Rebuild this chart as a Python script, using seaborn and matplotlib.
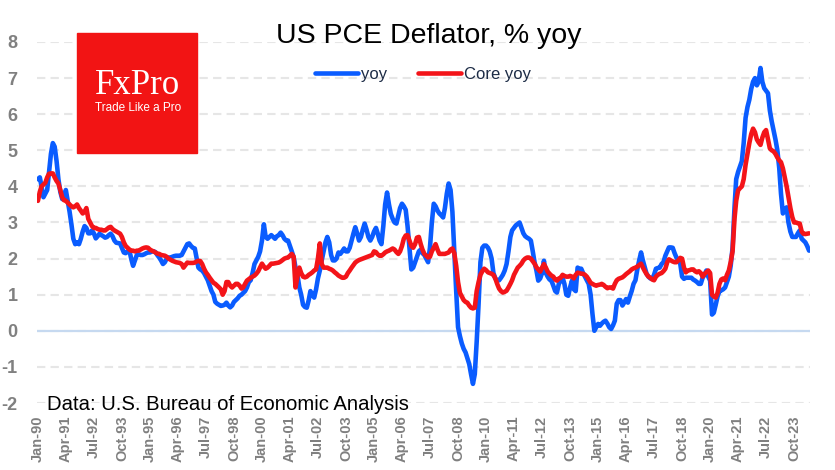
import pandas as pd
import matplotlib.pyplot as plt
import seaborn as sns
from matplotlib.patches import Rectangle

# US PCE deflator, % yoy, monthly from Jan 1990
YOY = [
    4.2, 4.25, 4.0, 3.7, 3.8, 3.9, 4.4, 4.9, 5.2, 5.1, 4.7, 4.2,            # 1990
    3.85, 3.65, 3.65, 3.9, 3.6, 3.3, 2.95, 2.55, 2.4, 2.45, 2.4, 2.55,      # 1991
    2.75, 2.9, 2.85, 2.7, 2.7, 2.78, 2.7, 2.56, 2.62, 2.69, 2.65, 2.62,     # 1992
    2.58, 2.6, 2.65, 2.69, 2.62, 2.5, 2.44, 2.43, 2.42, 2.3, 2.17, 2.15,    # 1993
    2.2, 2.22, 2.0, 1.8, 1.95, 2.1, 2.12, 2.1, 2.1, 2.12, 2.15, 2.17,       # 1994
    2.17, 2.2, 2.2, 2.18, 2.1, 2.03, 1.95, 1.85, 1.9, 2.0, 2.03, 2.03,      # 1995
    2.05, 2.07, 2.08, 2.08, 2.08, 2.1, 2.2, 2.3, 2.4, 2.42, 2.35, 2.3,      # 1996
    2.28, 2.0, 1.75, 1.7, 1.67, 1.6, 1.5, 1.4, 1.25, 1.1, 1.0, 0.8,         # 1997
    0.75, 0.72, 0.69, 0.7, 0.72, 0.78, 0.7, 0.65, 0.7, 0.8, 0.85, 0.9,      # 1998
    0.97, 1.0, 1.05, 1.1, 1.2, 1.35, 1.4, 1.6, 1.85, 1.95, 2.05, 2.2,       # 1999
    2.5, 2.95, 2.6, 2.55, 2.6, 2.65, 2.6, 2.55, 2.62, 2.65, 2.72, 2.65,     # 2000
    2.55, 2.5, 2.5, 2.35, 2.2, 2.03, 1.75, 1.55, 1.2, 1.0, 0.72, 0.66,      # 2001
    0.64, 0.85, 1.1, 1.0, 0.92, 1.15, 1.45, 1.67, 1.95, 2.2, 2.45, 2.6,     # 2002
    2.45, 2.1, 1.95, 1.95, 2.0, 2.17, 2.13, 2.2, 2.28, 2.2, 2.2, 2.3,       # 2003
    2.5, 2.7, 2.87, 2.7, 2.5, 2.6, 2.8, 2.97, 2.8, 2.6, 2.5, 2.6,           # 2004
    2.75, 2.85, 2.7, 2.5, 2.4, 2.9, 3.5, 3.83, 3.5, 3.24, 3.1, 3.0,         # 2005
    2.97, 3.2, 3.4, 3.52, 3.45, 3.35, 2.9, 2.3, 1.7, 1.75, 1.9, 2.05,       # 2006
    2.2, 2.25, 2.15, 2.1, 2.0, 1.9, 2.3, 3.0, 3.52, 3.45, 3.33, 3.25,       # 2007
    3.2, 3.14, 3.4, 3.8, 4.08, 3.9, 3.3, 2.2, 1.1, 0.1, -0.15, -0.35,       # 2008
    -0.5, -0.6, -0.75, -0.92, -1.2, -1.47, -1.2, -0.3, 0.75, 1.9, 2.3, 2.36,  # 2009
    2.36, 2.3, 2.2, 2.0, 1.6, 1.45, 1.39, 1.4, 1.47, 1.55, 1.67, 1.85,      # 2010
    2.2, 2.6, 2.78, 2.85, 2.92, 2.96, 3.0, 2.85, 2.7, 2.62, 2.58, 2.55,     # 2011
    2.5, 2.2, 1.9, 1.67, 1.39, 1.45, 1.6, 1.94, 1.6, 1.5, 1.42, 1.39,       # 2012
    1.25, 1.1, 1.06, 1.3, 1.39, 1.47, 1.3, 1.0, 0.97, 1.2, 1.39, 1.15,      # 2013
    1.1, 1.75, 1.72, 1.72, 1.6, 1.5, 1.4, 1.3, 1.0, 0.47, 0.0, 0.1,         # 2014
    0.19, 0.14, 0.2, 0.25, 0.28, 0.2, 0.1, 0.05, 0.15, 0.28, 0.75, 0.85,    # 2015
    0.85, 0.7, 0.78, 0.88, 0.78, 0.95, 1.1, 1.3, 1.4, 1.7, 1.95, 2.17,      # 2016
    1.94, 1.75, 1.58, 1.5, 1.45, 1.44, 1.55, 1.72, 1.74, 1.75, 1.85, 1.9,   # 2017
    2.08, 2.2, 2.31, 2.31, 2.3, 2.15, 2.03, 1.95, 1.86, 1.5, 1.44, 1.47,    # 2018
    1.47, 1.47, 1.47, 1.42, 1.39, 1.35, 1.3, 1.3, 1.47, 1.55, 1.67, 1.5,    # 2019
    1.39, 0.45, 0.5, 0.72, 0.95, 1.1, 1.12, 1.15, 1.2, 1.35, 1.5, 1.8,      # 2020
    2.3, 3.4, 4.2, 4.4, 4.55, 4.7, 5.2, 5.9, 6.2, 6.4, 6.7, 6.9,            # 2021
    7.0, 6.8, 6.9, 7.28, 6.9, 6.72, 6.65, 6.58, 6.1, 5.8, 5.55, 5.3,        # 2022
    5.0, 4.5, 3.8, 3.25, 3.35, 3.42, 3.0, 2.75, 2.6, 2.6, 2.6, 2.7,         # 2023
    2.78, 2.55, 2.5, 2.45, 2.35, 2.22,                                      # 2024
]

CORE_YOY = [
    3.6, 3.85, 4.0, 4.05, 4.1, 4.25, 4.35, 4.36, 4.36, 4.25, 4.15, 4.08,    # 1990
    3.9, 3.7, 3.62, 3.6, 3.55, 3.5, 3.45, 3.42, 3.45, 3.5, 3.4, 3.33,       # 1991
    3.25, 3.3, 3.4, 3.1, 3.0, 2.9, 2.85, 2.85, 2.82, 2.8, 2.8, 2.78,        # 1992
    2.78, 2.82, 2.86, 2.88, 2.82, 2.78, 2.75, 2.72, 2.69, 2.6, 2.45, 2.35,  # 1993
    2.3, 2.25, 2.22, 2.22, 2.2, 2.22, 2.22, 2.25, 2.28, 2.3, 2.31, 2.3,     # 1994
    2.25, 2.22, 2.2, 2.17, 2.14, 2.13, 2.1, 2.09, 2.08, 2.05, 2.0, 1.97,    # 1995
    1.94, 1.92, 1.9, 1.89, 1.88, 1.85, 1.75, 1.82, 1.89, 1.88, 1.88, 1.88,  # 1996
    1.89, 1.92, 1.94, 1.93, 1.85, 1.72, 1.62, 1.55, 1.47, 1.4, 1.33, 1.3,   # 1997
    1.25, 1.2, 1.15, 1.0, 1.1, 1.35, 1.35, 1.25, 1.2, 1.25, 1.3, 1.3,       # 1998
    1.25, 1.17, 1.2, 1.3, 1.39, 1.43, 1.47, 1.5, 1.53, 1.58, 1.65, 1.75,    # 1999
    1.86, 1.78, 1.72, 1.75, 1.8, 1.86, 1.86, 1.87, 1.88, 1.89, 1.92, 1.96,  # 2000
    2.0, 2.02, 2.03, 2.08, 2.13, 2.05, 1.2, 1.5, 1.75, 1.6, 1.5, 1.48,      # 2001
    1.5, 1.55, 1.58, 1.62, 1.67, 1.7, 2.0, 2.42, 1.85, 1.75, 1.75, 1.75,    # 2002
    1.72, 1.7, 1.67, 1.62, 1.58, 1.53, 1.5, 1.47, 1.47, 1.5, 1.6, 1.67,     # 2003
    1.75, 1.82, 1.89, 1.93, 1.96, 1.98, 2.0, 2.02, 2.04, 2.06, 2.08, 2.1,   # 2004
    2.2, 2.18, 2.12, 2.08, 2.08, 2.12, 2.17, 2.2, 2.22, 2.25, 2.28, 2.25,   # 2005
    2.18, 2.13, 2.2, 2.35, 2.55, 2.64, 2.65, 2.5, 2.35, 2.3, 2.4, 2.58,     # 2006
    2.6, 2.4, 2.25, 2.13, 2.08, 2.03, 2.05, 2.2, 2.3, 2.4, 2.25, 2.13,      # 2007
    2.13, 2.13, 2.13, 2.15, 2.17, 2.25, 2.28, 2.15, 1.8, 1.35, 1.05, 0.95,  # 2008
    0.85, 0.8, 0.78, 0.7, 0.64, 0.62, 0.64, 1.1, 1.35, 1.55, 1.65, 1.72,    # 2009
    1.68, 1.62, 1.6, 1.58, 1.55, 1.45, 1.3, 1.17, 1.1, 1.06, 1.08, 1.11,    # 2010
    1.2, 1.3, 1.4, 1.55, 1.65, 1.75, 1.8, 1.86, 1.95, 2.0, 2.03, 2.03,      # 2011
    2.0, 1.93, 1.86, 1.76, 1.7, 1.64, 1.75, 1.85, 1.75, 1.64, 1.58, 1.53,   # 2012
    1.5, 1.42, 1.39, 1.45, 1.47, 1.55, 1.52, 1.5, 1.5, 1.52, 1.5, 1.45,     # 2013
    1.55, 1.61, 1.6, 1.58, 1.58, 1.55, 1.5, 1.42, 1.33, 1.3, 1.27, 1.25,    # 2014
    1.27, 1.28, 1.3, 1.27, 1.22, 1.18, 1.2, 1.2, 1.17, 1.3, 1.4, 1.44,      # 2015
    1.46, 1.48, 1.52, 1.57, 1.61, 1.65, 1.7, 1.73, 1.75, 1.78, 1.82, 1.86,  # 2016
    1.75, 1.65, 1.57, 1.5, 1.47, 1.42, 1.4, 1.5, 1.55, 1.58, 1.6, 1.65,     # 2017
    1.72, 1.9, 1.98, 1.95, 1.92, 1.9, 1.9, 1.95, 2.02, 2.0, 1.75, 1.62,     # 2018
    1.67, 1.68, 1.7, 1.7, 1.65, 1.62, 1.65, 1.6, 1.5, 1.57, 1.62, 1.67,     # 2019
    1.6, 1.0, 0.95, 0.92, 1.05, 1.3, 1.42, 1.45, 1.4, 1.55, 1.67, 1.9,      # 2020
    2.2, 3.1, 3.6, 3.89, 3.95, 4.0, 4.2, 4.6, 4.9, 5.2, 5.45, 5.6,          # 2021
    5.5, 5.3, 5.22, 5.15, 5.35, 5.5, 5.56, 5.3, 5.05, 5.0, 4.97, 4.9,       # 2022
    4.8, 4.72, 4.67, 4.5, 4.25, 4.0, 3.7, 3.4, 3.15, 3.0, 3.0, 2.98,        # 2023
    2.97, 2.75, 2.69, 2.68, 2.69, 2.7,                                      # 2024
]

TICK_LABELS = [
    "Jan-90", "Apr-91", "Jul-92", "Oct-93", "Jan-95", "Apr-96", "Jul-97",
    "Oct-98", "Jan-00", "Apr-01", "Jul-02", "Oct-03", "Jan-05", "Apr-06",
    "Jul-07", "Oct-08", "Jan-10", "Apr-11", "Jul-12", "Oct-13", "Jan-15",
    "Apr-16", "Jul-17", "Oct-18", "Jan-20", "Apr-21", "Jul-22", "Oct-23",
]
Y_TICKS = [-2, -1, 0, 1, 2, 3, 4, 5, 6, 7, 8]

BLUE = "#0a5cff"
RED = "#f31419"
GREY = "#808080"

months = pd.date_range("1990-01-01", periods=len(YOY), freq="MS")
df = pd.DataFrame({"month": months, "yoy": YOY, "core": CORE_YOY})

sns.set_theme(style="white")
plt.rcParams["font.family"] = ["Liberation Sans", "DejaVu Sans"]
plt.rcParams["axes.unicode_minus"] = False

W, H = 835, 470
fig = plt.figure(figsize=(W / 100, H / 100), dpi=100)
ax = fig.add_axes([37 / W, 1 - 403 / H, (810 - 37) / W, (403 - 42) / H])

sns.lineplot(data=df, x="month", y="yoy", ax=ax, color=BLUE, lw=3.3, label="yoy", zorder=3)
sns.lineplot(data=df, x="month", y="core", ax=ax, color=RED, lw=3.3, label="Core yoy", zorder=4)

ax.set_ylim(-2, 8)
ax.set_yticks(Y_TICKS)
ax.set_xlim(months[0] - pd.Timedelta(days=15), months[-1] + pd.Timedelta(days=15))
ax.set_xticks(months[::15])
ax.set_xticklabels(TICK_LABELS, rotation=90)
ax.set_xlabel("")
ax.set_ylabel("")

ax.grid(axis="y", color="#e6e6e6", lw=1.5, ls=(0, (4, 2.5)), zorder=0)
ax.axhline(0, color="#c6d9f0", lw=1.6, zorder=1)
for s in ax.spines.values():
    s.set_visible(False)
ax.tick_params(axis="both", length=0, colors=GREY)
ax.tick_params(axis="y", pad=14, labelsize=13)
ax.tick_params(axis="x", pad=9, labelsize=10.5)
for t in ax.get_xticklabels() + ax.get_yticklabels():
    t.set_fontweight("bold")

fig.text(429 / W, 1 - 36 / H, "US PCE Deflator, % yoy", ha="center", va="center",
         fontsize=20.5, color="black")

leg = ax.legend(loc="center", bbox_to_anchor=(423 / W, 1 - 74 / H),
                bbox_transform=fig.transFigure, ncol=2, frameon=False,
                fontsize=12, handlelength=2.6, handletextpad=0.2, columnspacing=1.8)
for t in leg.get_texts():
    t.set_color("#1c2b45")

fig.text(47 / W, 1 - 404 / H, "Data: U.S. Bureau of Economic Analysis", ha="left",
         va="center", fontsize=14.6, color="black")

# FxPro logo block
fig.add_artist(Rectangle((77 / W, 1 - 153 / H), 120 / W, 120 / H,
                         transform=fig.transFigure, color="#f21414", zorder=5))
fig.text(95 / W, 1 - 85 / H, "FxPro", ha="left", va="center", fontsize=25,
         color="white", family="Liberation Serif", zorder=6)
fig.text(95 / W, 1 - 108 / H, "Trade Like a Pro", ha="left", va="center",
         fontsize=8.5, color="white", zorder=6)

fig.savefig("out.png", dpi=100)
